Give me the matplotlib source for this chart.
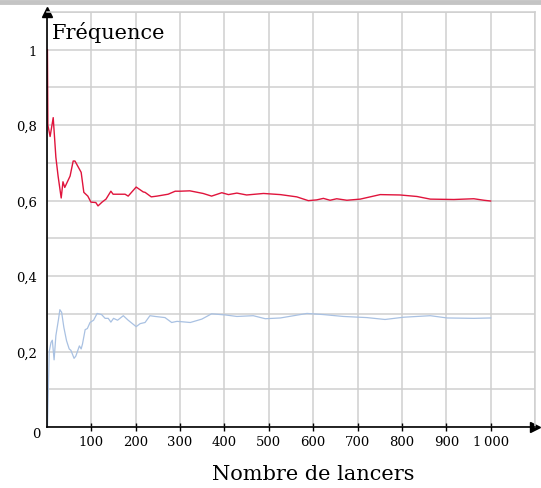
import numpy as np
import matplotlib
matplotlib.use("Agg")
import matplotlib.pyplot as plt
from matplotlib.ticker import FixedLocator

# ------------------------------
# Data
# ------------------------------
n_red = [1, 2, 7, 14, 20, 25, 32, 36, 40, 52, 59, 63, 77, 83, 92, 99, 110, 115,
         124, 133, 144, 149, 176, 183, 201, 217, 221, 235, 248, 273, 289, 300,
         322, 352, 371, 394, 409, 428, 450, 488, 526, 563, 589, 608, 623, 638,
         653, 676, 706, 751, 796, 834, 864, 917, 962, 985, 1000]
f_red = [1.0, 0.80, 0.77, 0.82, 0.715, 0.665, 0.607, 0.65, 0.635, 0.665, 0.705,
         0.705, 0.675, 0.622, 0.612, 0.596, 0.595, 0.586, 0.596, 0.604, 0.625,
         0.617, 0.617, 0.612, 0.636, 0.623, 0.622, 0.61, 0.612, 0.617, 0.625,
         0.625, 0.626, 0.619, 0.612, 0.621, 0.616, 0.620, 0.615, 0.619, 0.616,
         0.610, 0.600, 0.602, 0.606, 0.601, 0.605, 0.601, 0.604, 0.616, 0.615,
         0.611, 0.604, 0.603, 0.605, 0.601, 0.599]

n_blue = [1, 3, 5, 9, 12, 16, 20, 26, 29, 33, 38, 44, 50, 54, 61, 65, 73, 77,
          80, 86, 91, 97, 105, 113, 123, 131, 138, 144, 150, 159, 172, 183,
          201, 210, 221, 232, 244, 266, 281, 293, 304, 323, 349, 371, 402, 428,
          465, 492, 526, 556, 586, 623, 668, 721, 762, 804, 864, 902, 962, 1000]
f_blue = [0.0, 0.10, 0.20, 0.224, 0.23, 0.178, 0.242, 0.286, 0.311, 0.304,
          0.264, 0.229, 0.207, 0.203, 0.182, 0.188, 0.215, 0.207, 0.22, 0.258,
          0.261, 0.277, 0.283, 0.301, 0.298, 0.288, 0.288, 0.278, 0.288, 0.283,
          0.295, 0.283, 0.266, 0.274, 0.277, 0.295, 0.293, 0.29, 0.277, 0.28,
          0.279, 0.277, 0.286, 0.30, 0.297, 0.293, 0.295, 0.287, 0.289, 0.295,
          0.301, 0.298, 0.293, 0.29, 0.285, 0.291, 0.295, 0.289, 0.288, 0.289]

x_ticks = [100, 200, 300, 400, 500, 600, 700, 800, 900, 1000]
x_labels = ["100", "200", "300", "400", "500", "600", "700", "800", "900", "1\u2009000"]
y_ticks = [0.2, 0.4, 0.6, 0.8, 1.0]
y_labels = ["0,2", "0,4", "0,6", "0,8", "1"]

plt.rcParams["font.family"] = ["DejaVu Serif"]

fig = plt.figure(figsize=(5.41, 4.89), dpi=100)
ax = fig.add_axes([47 / 541, 61 / 489, 488 / 541, 415 / 489])

ax.set_xlim(0, 1100)
ax.set_ylim(0, 1.1)

# grid on both major and minor ticks (minor fills the gaps)
ax.xaxis.set_minor_locator(FixedLocator(np.arange(0, 1101, 100)))
ax.yaxis.set_minor_locator(FixedLocator(np.arange(0, 1.11, 0.1)))
ax.grid(which="both", color="#cfcfcf", linewidth=1.1)
ax.tick_params(which="minor", length=0)
ax.set_axisbelow(True)

ax.set_xticks(x_ticks)
ax.set_xticklabels(x_labels, fontsize=9.5)
ax.set_yticks(y_ticks)
ax.set_yticklabels(y_labels, fontsize=9.5)
ax.tick_params(axis="x", which="major", direction="inout", length=6, width=1, pad=3)
ax.tick_params(axis="y", which="major", length=0, pad=7)

for s in ["top", "right"]:
    ax.spines[s].set_color("#cfcfcf")
    ax.spines[s].set_linewidth(1.1)
for s in ["left", "bottom"]:
    ax.spines[s].set_color("black")
    ax.spines[s].set_linewidth(1.2)

# arrows
ax.plot(1, 0, ">k", markersize=7, transform=ax.transAxes, clip_on=False)
ax.plot(0, 1, "^k", markersize=7, transform=ax.transAxes, clip_on=False)

ax.plot(n_red, f_red, color="#e0143c", linewidth=1.0)
ax.plot(n_blue, f_blue, color="#a9c1e2", linewidth=0.9)

ax.text(11, 1.03, "Fréquence", fontsize=15, va="baseline", ha="left")
ax.text(-25, 0, "0", fontsize=9.5, ha="center", va="top")
fig.text(313 / 541, 9 / 489, "Nombre de lancers", fontsize=15, ha="center", va="baseline")

# gray rule at top of the image
fig.add_artist(plt.Line2D([0, 1], [1 - 2.5 / 489, 1 - 2.5 / 489], color="#c4c4c4",
                          linewidth=3.5, transform=fig.transFigure))

fig.savefig("out.png", dpi=100)
